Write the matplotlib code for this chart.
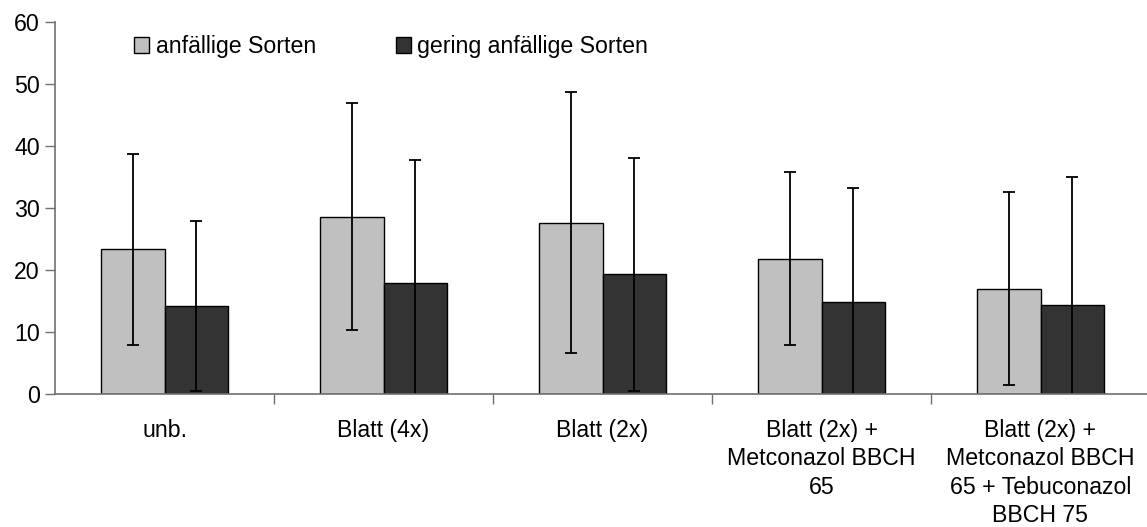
import matplotlib
matplotlib.use("Agg")
import matplotlib.pyplot as plt
import numpy as np
from matplotlib.patches import Patch

plt.rcParams['font.family'] = ['Liberation Sans', 'DejaVu Sans']
plt.rcParams['font.size'] = 16.7

# Behandlungen und Mittelwerte mit Standardabweichung
categories = ['unb.', 'Blatt (4x)', 'Blatt (2x)',
              'Blatt (2x) +\nMetconazol BBCH\n65',
              'Blatt (2x) +\nMetconazol BBCH\n65 + Tebuconazol\nBBCH 75']
anfaellig = [23.3, 28.6, 27.6, 21.8, 17.0]
anfaellig_sd = [15.4, 18.3, 21.0, 13.9, 15.6]
gering = [14.2, 17.9, 19.3, 14.8, 14.4]
gering_sd = [13.7, 19.8, 18.8, 18.4, 20.6]
series_names = ['anfällige Sorten', 'gering anfällige Sorten']

light = '#C0C0C0'
dark = '#333333'
axis_col = '#707070'

fig = plt.figure(figsize=(11.47, 5.27), dpi=100)
ax = fig.add_axes([55 / 1147, 1 - 394 / 527, 1095 / 1147, 372.3 / 527])

x = np.arange(len(categories))
w = 0.288
err_kw = dict(ecolor='black', elinewidth=1.3, capsize=4.5, capthick=1.3)
ax.bar(x - w / 2, anfaellig, w, yerr=anfaellig_sd, color=light,
       edgecolor='black', linewidth=1.0, error_kw=err_kw, zorder=2)
ax.bar(x + w / 2, gering, w, yerr=gering_sd, color=dark,
       edgecolor='black', linewidth=1.0, error_kw=err_kw, zorder=2)

ax.set_xlim(-0.5, len(categories) - 0.5)
ax.set_ylim(0, 60)
ax.set_yticks(range(0, 61, 10))

ax.set_xticks(x)
ax.set_xticklabels(categories, linespacing=1.3, va='top')
ax.set_xticks(np.arange(0.5, len(categories) - 0.5, 1), minor=True)
ax.tick_params(axis='x', which='major', length=0, pad=18)
ax.tick_params(axis='x', which='minor', length=7, width=1.0, color=axis_col, direction='out')
ax.tick_params(axis='y', length=7, width=1.0, color=axis_col, direction='out', pad=4)

for side in ('top', 'right'):
    ax.spines[side].set_visible(False)
for side in ('left', 'bottom'):
    ax.spines[side].set_color(axis_col)
    ax.spines[side].set_linewidth(1.2)

handles = [Patch(facecolor=light, edgecolor='black', linewidth=1.0),
           Patch(facecolor=dark, edgecolor='black', linewidth=1.0)]
fig.legend(handles, series_names, loc='center left',
           bbox_to_anchor=(134 / 1147, 1 - 46.5 / 527), ncol=2, frameon=False,
           borderpad=0, borderaxespad=0, handlelength=0.65, handleheight=0.65,
           handletextpad=0.28, columnspacing=3.45)

fig.savefig('out.png', dpi=100)
